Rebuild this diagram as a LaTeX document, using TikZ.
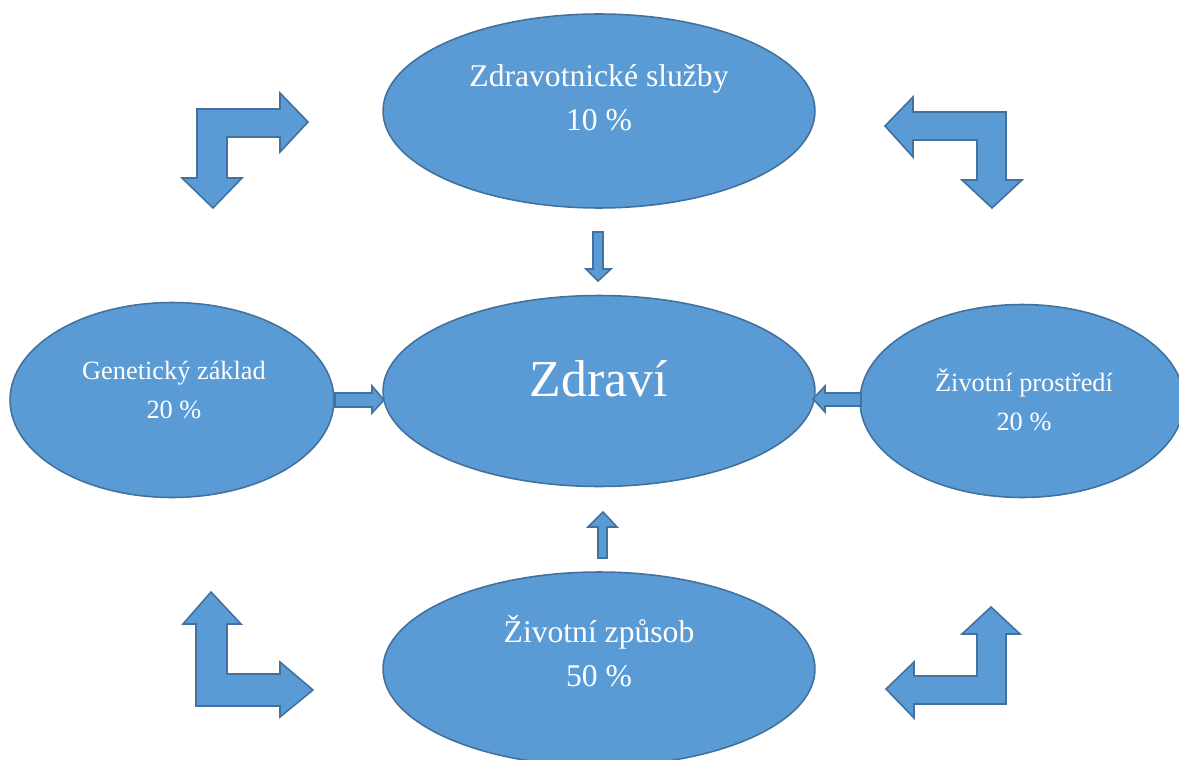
\documentclass[tikz,border=0pt]{standalone}
\usepackage{fontspec}
\setmainfont{Liberation Serif}
\usetikzlibrary{shapes.geometric}
\definecolor{fillblue}{HTML}{5B9BD5}
\definecolor{edgeblue}{HTML}{41719C}
\begin{document}
\begin{tikzpicture}[x=0.02cm,y=-0.02cm,
  blob/.style={ellipse, draw=edgeblue, fill=fillblue, line width=0.9pt, inner sep=0pt},
  blockarrow/.style={draw=edgeblue, fill=fillblue, line width=0.9pt, line join=miter},
  lbl/.style={text=white, align=center, inner sep=0pt},
  bigfont/.style={font=\fontsize{18}{25}\selectfont},
  smallfont/.style={font=\fontsize{15}{22}\selectfont}]
\useasboundingbox (0,0) rectangle (1179,760);
\clip (0,0) rectangle (1179,760);

% ellipses
\node[blob, minimum width=8.64cm, minimum height=3.88cm] (sluzby) at (599,111) {};
\node[blob, minimum width=8.64cm, minimum height=3.82cm] (zdravi) at (599,391) {};
\node[blob, minimum width=6.48cm, minimum height=3.90cm] (genetika) at (172,400) {};
\node[blob, minimum width=6.48cm, minimum height=3.86cm] (prostredi) at (1022,401) {};
\node[blob, minimum width=8.64cm, minimum height=3.88cm] (zpusob) at (599,669) {};

% texts
\node[lbl, bigfont] (sluzbyT) at (599,98) {Zdravotnické služby\\10 \%};
\node[lbl, font=\fontsize{29.5}{35}\selectfont] (zdraviT) at (599,379) {Zdraví};
\node[lbl, smallfont] (genetikaT) at (174,390) {Genetický základ\\20 \%};
\node[lbl, smallfont] (prostrediT) at (1024,400) {Životní prostředí\\20 \%};
\node[lbl, bigfont] (zpusobT) at (599,651) {Životní způsob\\50 \%};

% small arrows towards Zdraví
\draw[blockarrow] (593,232) -- (603,232) -- (603,269) -- (611,269) -- (598,281) -- (586,269) -- (593,269) -- cycle;
\draw[blockarrow] (335,393) -- (372,393) -- (372,386) -- (384,400) -- (372,413) -- (372,407) -- (335,407) -- cycle;
\draw[blockarrow] (861,393) -- (825,393) -- (825,386) -- (813,399) -- (825,412) -- (825,406) -- (861,406) -- cycle;
\draw[blockarrow] (598,558) -- (598,527) -- (588,527) -- (603,512) -- (617,527) -- (607,527) -- (607,558) -- cycle;

% bent corner arrows
\draw[blockarrow] (197,178) -- (182,178) -- (213,208) -- (242,178) -- (227,178) -- (227,137) -- (280,137) -- (280,152) -- (308,122) -- (280,93) -- (280,109) -- (197,109) -- cycle;
\draw[blockarrow] (913,112) -- (1006,112) -- (1006,180) -- (1022,180) -- (992,208) -- (962,180) -- (977,180) -- (977,140) -- (913,140) -- (913,157) -- (885,126) -- (913,97) -- cycle;
\draw[blockarrow] (211,592) -- (241,624) -- (227,624) -- (227,674) -- (280,674) -- (280,662) -- (313,690) -- (280,717) -- (280,706) -- (196,706) -- (196,624) -- (183,624) -- cycle;
\draw[blockarrow] (991,607) -- (1020,634) -- (1006,634) -- (1006,704) -- (914,704) -- (914,718) -- (886,689) -- (914,662) -- (914,676) -- (977,676) -- (977,634) -- (962,634) -- cycle;
\end{tikzpicture}
\end{document}
